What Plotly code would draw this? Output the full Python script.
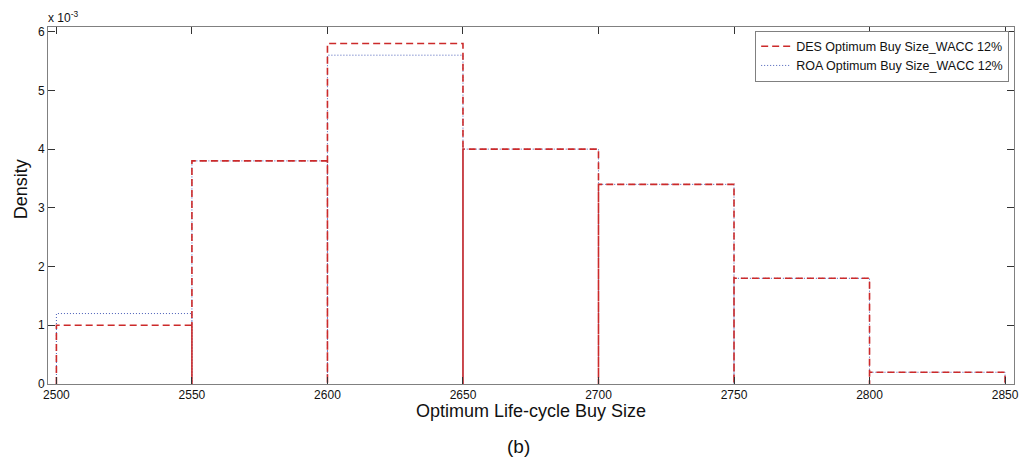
import plotly.graph_objects as go

bin_edges = [2500, 2550, 2600, 2650, 2700, 2750, 2800, 2850]
des_density = [1.0, 3.8, 5.8, 4.0, 3.4, 1.8, 0.2]   # x 10^-3
roa_density = [1.2, 3.8, 5.6, 4.0, 3.4, 1.8, 0.2]   # x 10^-3
series_names = ["DES Optimum Buy Size_WACC 12%", "ROA Optimum Buy Size_WACC 12%"]
x_ticks = [2500, 2550, 2600, 2650, 2700, 2750, 2800, 2850]
y_ticks = [0, 1, 2, 3, 4, 5, 6]


def outline(edges, vals):
    xs, ys = [], []
    for i, v in enumerate(vals):
        xs += [edges[i], edges[i], edges[i + 1], edges[i + 1]]
        ys += [0, v, v, 0]
    return xs, ys


fig = go.Figure()
xr, yr = outline(bin_edges, roa_density)
fig.add_trace(go.Scatter(x=xr, y=yr, mode="lines", name=series_names[1],
                         line=dict(color="#4a5fb8", width=1, dash="1px,2px")))
xd, yd = outline(bin_edges, des_density)
fig.add_trace(go.Scatter(x=xd, y=yd, mode="lines", name=series_names[0],
                         line=dict(color="#cc2a2a", width=1.6, dash="7px,4px")))

axis_common = dict(showline=True, linecolor="#808080", linewidth=1, mirror="ticks",
                   ticks="inside", ticklen=7, tickcolor="#333", showgrid=False,
                   zeroline=False, tickfont=dict(family="Arial, Liberation Sans", size=12, color="#111"))

fig.update_layout(
    width=1020, height=463,
    margin=dict(l=48, r=6, t=27, b=79, autoexpand=False),
    paper_bgcolor="white", plot_bgcolor="white",
    font=dict(family="Arial, Liberation Sans", color="#111"),
    xaxis=dict(range=[2496.9, 2853.3], tickvals=x_ticks, **axis_common),
    yaxis=dict(range=[0, 6.08], tickvals=y_ticks, **axis_common),
    legend=dict(x=0.995, y=0.99, xanchor="right", yanchor="top", traceorder="reversed",
                bgcolor="white", bordercolor="#808080", borderwidth=1,
                font=dict(size=12.5, family="Arial, Liberation Sans"),
                tracegroupgap=0, itemwidth=30),
    showlegend=True,
)

fig.add_annotation(text="Density", xref="paper", yref="paper", x=-0.027, y=0.545,
                   textangle=-90, showarrow=False, font=dict(size=18), xanchor="center", yanchor="middle")
fig.add_annotation(text="Optimum Life-cycle Buy Size", xref="paper", yref="paper", x=0.5, y=-0.075,
                   showarrow=False, font=dict(size=18), xanchor="center", yanchor="middle")
fig.add_annotation(text="(b)", xref="paper", yref="paper", x=0.487, y=-0.175,
                   showarrow=False, font=dict(size=19), xanchor="center", yanchor="middle")
fig.add_annotation(text="x 10<sup>-3</sup>", xref="paper", yref="paper", x=-0.002, y=1.0,
                   showarrow=False, font=dict(size=12), xanchor="left", yanchor="bottom")

fig.write_html("out.html", config={"displayModeBar": False},
               post_script="document.body.style.margin='0';document.body.style.overflow='hidden';")
